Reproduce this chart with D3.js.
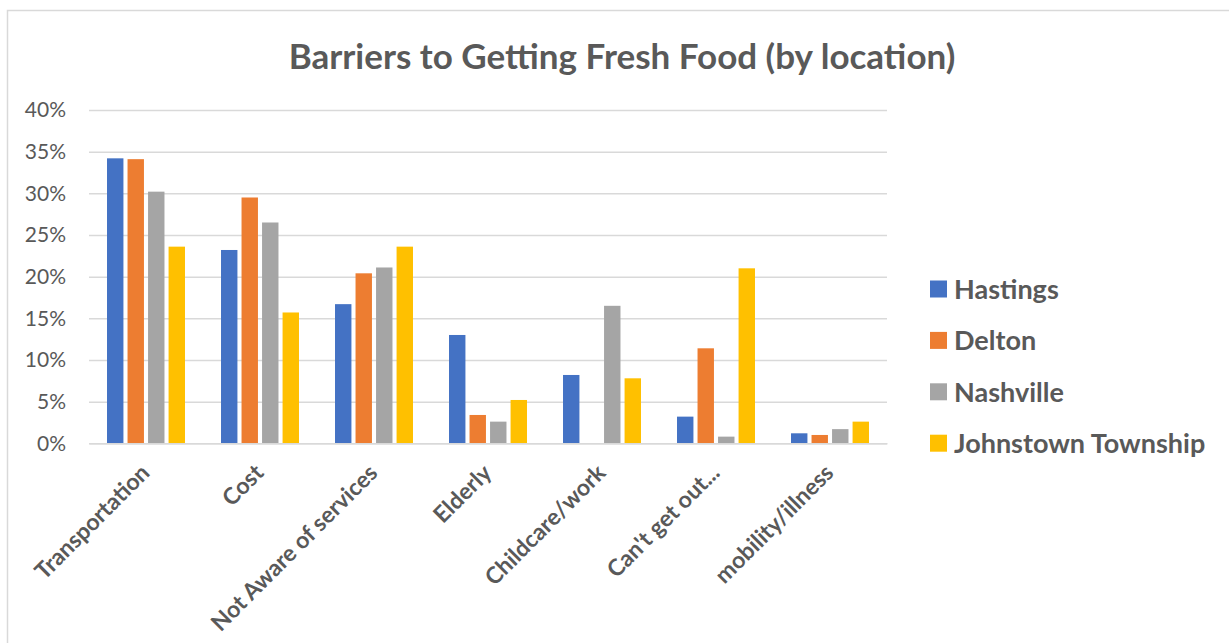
<!DOCTYPE html>
<html>
<head>
<meta charset="utf-8">
<script src="https://cdn.jsdelivr.net/npm/d3@7"></script>
<style>
  html, body { margin: 0; padding: 0; background: #fff; }
  svg { display: block; font-family: Lato, "Open Sans", sans-serif; }
</style>
</head>
<body>
<svg id="chart" width="1229" height="643"></svg>
<script>
// Share of respondents naming each barrier, by location (percent)
const categories = ["Transportation", "Cost", "Not Aware of services", "Elderly",
                    "Childcare/work", "Can't get out...", "mobility/illness"];
const seriesNames = ["Hastings", "Delton", "Nashville", "Johnstown Township"];
const hastings  = [34.2, 23.2, 16.7, 13.0, 8.2, 3.2, 1.2];
const delton    = [34.1, 29.5, 20.4, 3.4, 0.0, 11.4, 1.0];
const nashville = [30.2, 26.5, 21.1, 2.6, 16.5, 0.8, 1.7];
const johnstown = [23.6, 15.7, 23.6, 5.2, 7.8, 21.0, 2.6];
const yTicks = [0, 5, 10, 15, 20, 25, 30, 35, 40];
const colors = ["#4472c4", "#ed7d31", "#a5a5a5", "#ffc000"];

const seriesValues = [hastings, delton, nashville, johnstown];
const rows = categories.map((c, i) => ({
  category: c,
  values: seriesNames.map((s, j) => ({ series: s, value: seriesValues[j][i], idx: j }))
}));

const svg = d3.select("#chart");
const textColor = "#595959";

// chart frame
svg.append("rect")
  .attr("x", 7.5).attr("y", 10.5)
  .attr("width", 1240).attr("height", 660)
  .attr("fill", "none").attr("stroke", "#d9d9d9").attr("stroke-width", 1.5);

const plot = { left: 89, right: 887, top: 110, bottom: 443.3 };

const y = d3.scaleLinear().domain([0, 40]).range([plot.bottom, plot.top]);
const x0 = d3.scaleBand().domain(categories)
  .range([plot.left, plot.right]).paddingInner(0.28).paddingOuter(0.14);
const x1 = d3.scaleBand().domain(seriesNames)
  .range([0, x0.bandwidth()]).paddingInner(0.2).paddingOuter(0.1);

// gridlines and percentage ticks
const yAxis = d3.axisLeft(y).tickValues(yTicks)
  .tickSize(-(plot.right - plot.left)).tickFormat(d => d + "%").tickPadding(23);
const gy = svg.append("g").attr("transform", `translate(${plot.left},0)`).call(yAxis);
gy.select(".domain").remove();
gy.selectAll(".tick line").attr("stroke", "#d9d9d9").attr("stroke-width", 1.5);
gy.selectAll(".tick text").attr("fill", textColor)
  .style("font-size", "21px").style("font-family", "Lato, sans-serif");

// bars
const groups = svg.append("g").selectAll("g").data(rows).join("g")
  .attr("transform", d => `translate(${x0(d.category)},0)`);
groups.selectAll("rect").data(d => d.values.filter(v => v.value > 0)).join("rect")
  .attr("x", d => x1(d.series))
  .attr("width", x1.bandwidth())
  .attr("y", d => y(d.value))
  .attr("height", d => y(0) - y(d.value))
  .attr("fill", d => colors[d.idx]);

// category labels, rotated
const xAxis = d3.axisBottom(x0).tickSize(0).tickPadding(0);
const gx = svg.append("g").attr("transform", `translate(0,${plot.bottom})`).call(xAxis);
gx.select(".domain").attr("stroke", "#d9d9d9").attr("stroke-width", 1.5);
gx.selectAll(".tick text")
  .attr("fill", textColor)
  .style("font-size", "23px").style("font-weight", "bold").style("font-family", "Lato, sans-serif")
  .attr("text-anchor", "end")
  .attr("dy", 0)
  .attr("transform", "translate(5,31) rotate(-45)");

// title
svg.append("text")
  .attr("x", 622).attr("y", 69)
  .attr("text-anchor", "middle")
  .attr("fill", textColor)
  .style("font-size", "35px").style("font-weight", "bold")
  .text("Barriers to Getting Fresh Food (by location)");

// legend
const legend = svg.append("g").selectAll("g").data(seriesNames).join("g")
  .attr("transform", (d, i) => `translate(930,${289 + i * 51.4})`);
legend.append("rect")
  .attr("x", 0).attr("y", -8.5).attr("width", 17).attr("height", 17)
  .attr("fill", (d, i) => colors[i]);
legend.append("text")
  .attr("x", 24).attr("y", 0).attr("dy", "0.36em")
  .attr("fill", textColor)
  .style("font-size", "27px").style("font-weight", "bold")
  .text(d => d);
</script>
</body>
</html>
